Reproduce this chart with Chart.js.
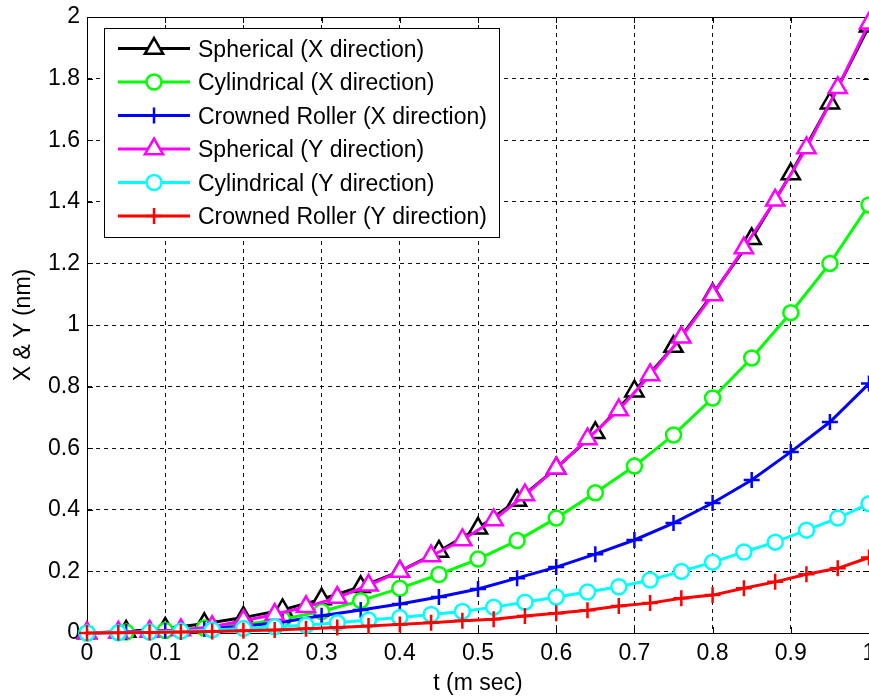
<!DOCTYPE html>
<html>
<head>
<meta charset="utf-8">
<script src="https://cdn.jsdelivr.net/npm/chart.js@4.4.0/dist/chart.umd.min.js"></script>
<style>
  html, body { margin: 0; padding: 0; background: #fff; }
</style>
</head>
<body>
<canvas id="chart" width="869" height="697"></canvas>
<script>
// sample times (m sec)
const tX = [0, 0.05, 0.1, 0.15, 0.2, 0.25, 0.3, 0.35, 0.4, 0.45, 0.5, 0.55, 0.6, 0.65, 0.7, 0.75, 0.8, 0.85, 0.9, 0.95, 1.0];
const tY = [0, 0.04, 0.08, 0.12, 0.16, 0.2, 0.24, 0.28, 0.32, 0.36, 0.4, 0.44, 0.48, 0.52, 0.56, 0.6, 0.64, 0.68, 0.72, 0.76, 0.8, 0.84, 0.88, 0.92, 0.96, 1.0];

// X direction (on tX)
const sphericalX   = [0, 0.005, 0.015, 0.03, 0.05, 0.075, 0.11, 0.15, 0.2, 0.265, 0.34, 0.43, 0.535, 0.65, 0.785, 0.93, 1.1, 1.28, 1.49, 1.72, 1.97];
const cylindricalX = [0, 0.003, 0.008, 0.016, 0.028, 0.045, 0.07, 0.105, 0.145, 0.19, 0.24, 0.30, 0.373, 0.455, 0.542, 0.643, 0.763, 0.893, 1.04, 1.2, 1.39];
const crownedX     = [0, 0.003, 0.007, 0.013, 0.022, 0.036, 0.056, 0.075, 0.094, 0.117, 0.143, 0.178, 0.214, 0.256, 0.302, 0.357, 0.422, 0.497, 0.588, 0.685, 0.81];

// Y direction (on tY)
const sphericalY   = [0, 0.002, 0.005, 0.01, 0.02, 0.04, 0.06, 0.085, 0.115, 0.155, 0.2, 0.25, 0.302, 0.367, 0.448, 0.535, 0.63, 0.724, 0.838, 0.96, 1.097, 1.25, 1.405, 1.575, 1.77, 1.98];
const cylindricalY = [0, 0.001, 0.003, 0.006, 0.01, 0.015, 0.02, 0.025, 0.033, 0.042, 0.05, 0.06, 0.07, 0.084, 0.1, 0.117, 0.133, 0.15, 0.172, 0.2, 0.23, 0.263, 0.295, 0.334, 0.373, 0.42];
const crownedY     = [0, 0.001, 0.002, 0.003, 0.005, 0.007, 0.01, 0.014, 0.018, 0.023, 0.028, 0.033, 0.04, 0.045, 0.055, 0.064, 0.074, 0.088, 0.097, 0.113, 0.123, 0.145, 0.166, 0.191, 0.21, 0.245];

const seriesNames = [
  "Spherical (X direction)",
  "Cylindrical (X direction)",
  "Crowned Roller (X direction)",
  "Spherical (Y direction)",
  "Cylindrical (Y direction)",
  "Crowned Roller (Y direction)"
];
const seriesColors = ["#000000", "#00ff00", "#0000ff", "#ff00ff", "#00ffff", "#ff0000"];
const seriesMarkers = ["triangle", "circle", "cross", "triangle", "circle", "cross"];

const FONT = "'Liberation Sans', Arial, sans-serif";

function pairs(ts, vs) {
  return ts.map((t, i) => ({ x: t, y: vs[i] }));
}

const markerRadius = { triangle: 10.5, circle: 7.5, cross: 8 };

const seriesData = [
  pairs(tX, sphericalX), pairs(tX, cylindricalX), pairs(tX, crownedX),
  pairs(tY, sphericalY), pairs(tY, cylindricalY), pairs(tY, crownedY)
];

const datasets = seriesData.map((d, i) => ({
  label: seriesNames[i],
  data: d,
  borderColor: seriesColors[i],
  borderWidth: 3,
  pointStyle: seriesMarkers[i],
  pointRadius: markerRadius[seriesMarkers[i]],
  pointBorderWidth: 2.5,
  pointBorderColor: seriesColors[i],
  pointBackgroundColor: "#ffffff",
  tension: 0,
  clip: false,
  order: 6 - i
}));

function drawMarker(ctx, style, x, y, r) {
  ctx.beginPath();
  if (style === "circle") {
    ctx.arc(x, y, r, 0, Math.PI * 2);
    ctx.fill();
    ctx.stroke();
  } else if (style === "triangle") {
    let a = 0;
    ctx.moveTo(x + Math.sin(a) * r, y - Math.cos(a) * r);
    a += Math.PI * 2 / 3;
    ctx.lineTo(x + Math.sin(a) * r, y - Math.cos(a) * r);
    a += Math.PI * 2 / 3;
    ctx.lineTo(x + Math.sin(a) * r, y - Math.cos(a) * r);
    ctx.closePath();
    ctx.fill();
    ctx.stroke();
  } else {
    ctx.moveTo(x - r, y); ctx.lineTo(x + r, y);
    ctx.moveTo(x, y - r); ctx.lineTo(x, y + r);
    ctx.stroke();
  }
}

// axes box with inward tick marks, MATLAB style
const boxPlugin = {
  id: "box",
  beforeDatasetsDraw(chart) {
    const { ctx, chartArea: a, scales } = chart;
    ctx.save();
    ctx.strokeStyle = "#000";
    ctx.lineWidth = 1;
    ctx.strokeRect(Math.round(a.left) + 0.5, Math.round(a.top) + 0.5, Math.round(a.right - a.left), Math.round(a.bottom - a.top));
    ctx.beginPath();
    scales.x.ticks.forEach(t => {
      const px = Math.round(scales.x.getPixelForValue(t.value)) + 0.5;
      ctx.moveTo(px, a.bottom); ctx.lineTo(px, a.bottom - 6);
      ctx.moveTo(px, a.top); ctx.lineTo(px, a.top + 6);
    });
    scales.y.ticks.forEach(t => {
      const py = Math.round(scales.y.getPixelForValue(t.value)) + 0.5;
      ctx.moveTo(a.left, py); ctx.lineTo(a.left + 6, py);
      ctx.moveTo(a.right, py); ctx.lineTo(a.right - 6, py);
    });
    ctx.stroke();
    ctx.restore();
  }
};

// legend box inside the plot, upper left
const legendPlugin = {
  id: "boxLegend",
  afterDraw(chart) {
    const ctx = chart.ctx;
    const bx = 104, by = 28, bw = 395, bh = 209;
    ctx.save();
    ctx.fillStyle = "#fff";
    ctx.fillRect(bx, by, bw, bh);
    ctx.strokeStyle = "#000";
    ctx.lineWidth = 1;
    ctx.strokeRect(bx + 0.5, by + 0.5, bw, bh);
    ctx.font = "23px " + FONT;
    ctx.textBaseline = "alphabetic";
    seriesNames.forEach((name, i) => {
      const cy = 48.5 + i * 33.5;
      ctx.strokeStyle = seriesColors[i];
      ctx.lineWidth = 3;
      ctx.beginPath();
      ctx.moveTo(118, cy); ctx.lineTo(190, cy);
      ctx.stroke();
      ctx.lineWidth = 2.5;
      ctx.fillStyle = "#fff";
      drawMarker(ctx, seriesMarkers[i], 154, cy, markerRadius[seriesMarkers[i]]);
      ctx.fillStyle = "#000";
      ctx.fillText(name, 198, cy + 8);
    });
    ctx.restore();
  }
};

const fmt = v => String(Number(v.toFixed(1)));
const noPad = () => ({ left: 0, top: 0, right: 0, bottom: 0 });

new Chart(document.getElementById("chart"), {
  type: "line",
  data: { datasets },
  options: {
    responsive: false,
    animation: false,
    devicePixelRatio: 1,
    layout: { autoPadding: false, padding: { top: 17, left: 0, right: 0, bottom: 0 } },
    plugins: { legend: { display: false }, tooltip: { enabled: false } },
    scales: {
      x: {
        type: "linear",
        min: 0, max: 1,
        grid: { color: "#111", lineWidth: 1, drawTicks: false },
        border: { display: true, color: "#000", width: 1, dash: [4, 4] },
        ticks: { stepSize: 0.1, color: "#000", padding: 7, maxRotation: 0, autoSkip: false, font: { family: FONT, size: 23 }, callback: fmt },
        title: { display: true, text: "t (m sec)", color: "#000", font: { family: FONT, size: 23 }, padding: 0 },
        afterFit(s) { s.height = 64; s.paddingLeft = 0; s.paddingRight = 0; s.getPadding = noPad; }
      },
      y: {
        type: "linear",
        min: 0, max: 2,
        grid: { color: "#111", lineWidth: 1, drawTicks: false },
        border: { display: true, color: "#000", width: 1, dash: [4, 4] },
        ticks: { stepSize: 0.2, color: "#000", padding: 7, font: { family: FONT, size: 23 }, callback: fmt },
        title: { display: true, text: "X & Y (nm)", color: "#000", font: { family: FONT, size: 23 }, padding: { top: 10, bottom: 0 } },
        afterFit(s) { s.width = 87; s.getPadding = noPad; }
      }
    }
  },
  plugins: [boxPlugin, legendPlugin]
});
</script>
</body>
</html>
